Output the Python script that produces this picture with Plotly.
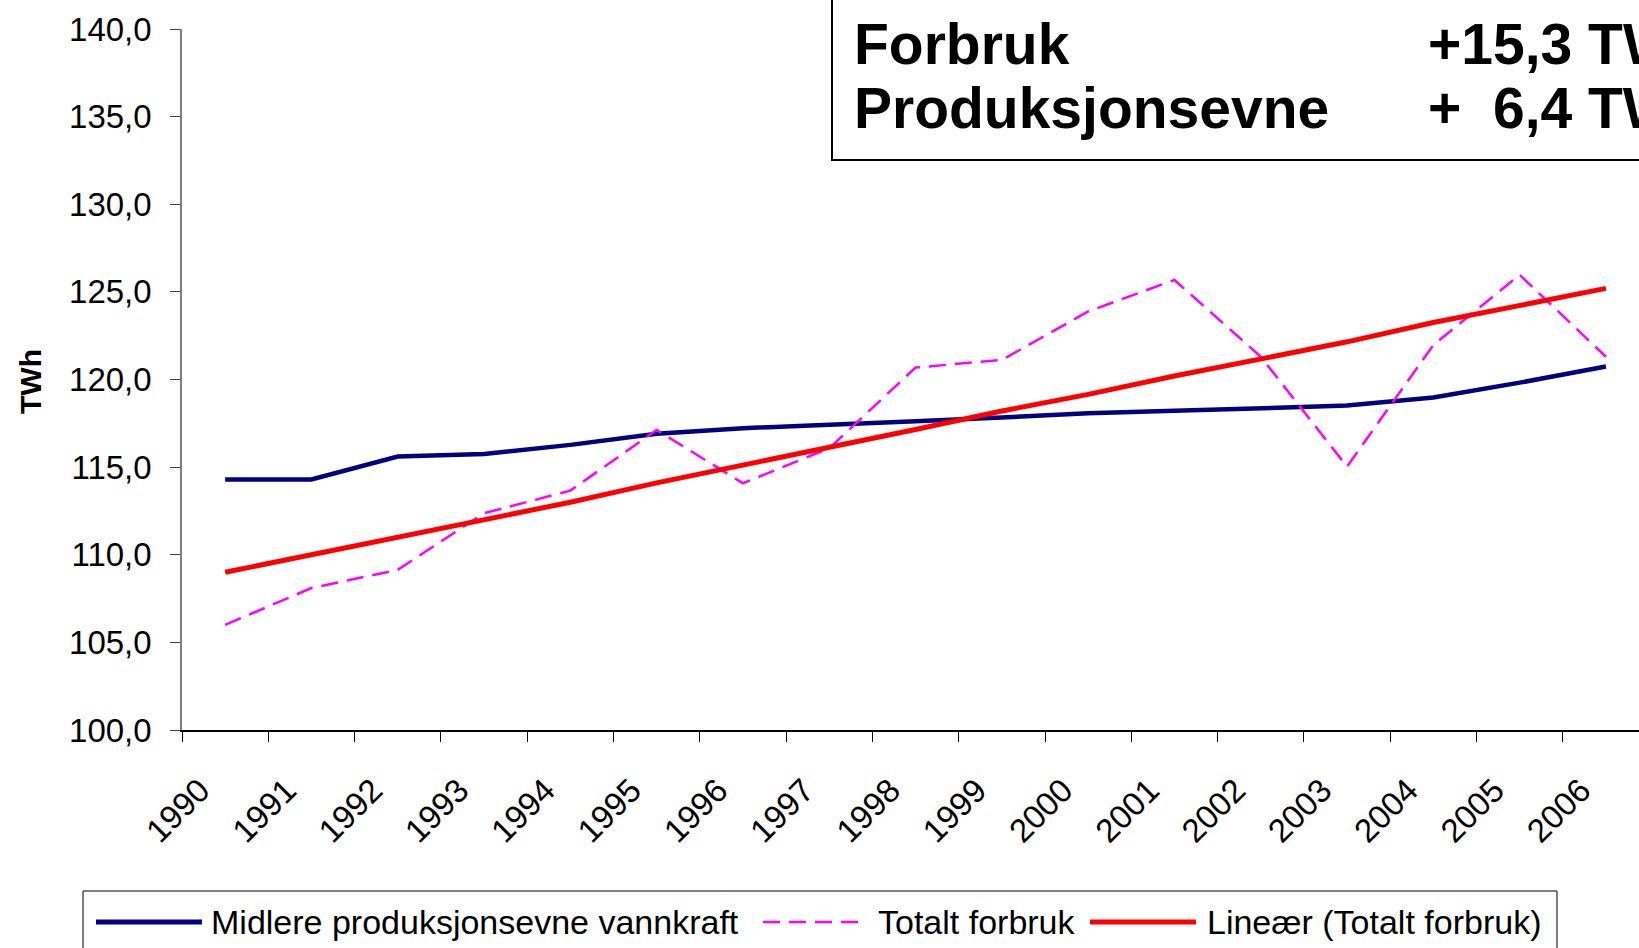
import plotly.graph_objects as go

years = [str(y) for y in range(1990, 2007)]
produksjonsevne = [114.3, 114.3, 115.6, 115.75, 116.27, 116.9, 117.22, 117.45, 117.62,
                   117.83, 118.08, 118.21, 118.36, 118.51, 118.97, 119.82, 120.74]
forbruk = [106.0, 108.1, 109.14, 112.37, 113.66, 117.12, 114.08, 116.08, 120.68,
           121.12, 123.88, 125.68, 121.3, 115.03, 121.97, 125.97, 121.3]
trend = [109.0, 110.0, 111.05, 112.05, 113.0, 114.1, 115.1, 116.1, 117.15,
         118.2, 119.15, 120.2, 121.2, 122.15, 123.25, 124.25, 125.2]
series_names = ["Midlere produksjonsevne vannkraft", "Totalt forbruk", "Lineær (Totalt forbruk)"]
box_labels = ["Forbruk", "Produksjonsevne"]
box_values = ["+15,3 TWh", "+\u00a0\u00a06,4 TWh"]

W, H = 1639, 948
L, R, T, B = 182, 0, 29, 218
PW, PH = W - L - R, H - T - B
CAT = 86.3

def px(x):  # reference-page pixel -> paper
    return (x - 182) / PW

def py(y):
    return (730 - y) / PH

FONT = "Liberation Sans, Arial, sans-serif"
colors = ["#000080", "#FF00FF", "#FF0000"]

fig = go.Figure()
fig.add_trace(go.Scatter(x=years, y=produksjonsevne, mode="lines", name=series_names[0],
                         line=dict(color=colors[0], width=4.5)))
fig.add_trace(go.Scatter(x=years, y=forbruk, mode="lines", name=series_names[1],
                         line=dict(color=colors[1], width=2.5, dash="17px,9px")))
fig.add_trace(go.Scatter(x=years, y=trend, mode="lines", name=series_names[2],
                         line=dict(color=colors[2], width=5)))

shapes = []
annotations = []

# text box (top right, clipped by figure edge)
shapes.append(dict(type="rect", xref="paper", yref="paper",
                   x0=px(832), x1=px(1720), y0=py(160), y1=py(-20),
                   line=dict(color="black", width=2), fillcolor="white", layer="above"))
for i, (lab, val) in enumerate(zip(box_labels, box_values)):
    yc = [44, 108][i]
    annotations.append(dict(xref="paper", yref="paper", x=px(852), y=py(yc), text=lab,
                            showarrow=False, xanchor="left", yanchor="middle",
                            font=dict(family=FONT, size=57, color="black", weight="bold")))
    annotations.append(dict(xref="paper", yref="paper", x=px(1426), y=py(yc), text=val,
                            showarrow=False, xanchor="left", yanchor="middle",
                            font=dict(family=FONT, size=57, color="black", weight="bold")))

# y axis title
annotations.append(dict(xref="paper", yref="paper", x=px(30), y=py(382), text="TWh",
                        showarrow=False, textangle=-90, xanchor="center", yanchor="middle",
                        font=dict(family=FONT, size=30, color="black", weight="bold")))

# manual legend
shapes.append(dict(type="rect", xref="paper", yref="paper",
                   x0=px(83), x1=px(1557), y0=py(970), y1=py(891),
                   line=dict(color="black", width=1), fillcolor="rgba(0,0,0,0)"))
leg_items = [(96, 202, 209), (763, 865, 876), (1090, 1196, 1205)]
dashes = ["solid", "17px,9px", "solid"]
widths = [5, 2.5, 5]
ly = 922
for i, (x0, x1, tx) in enumerate(leg_items):
    shapes.append(dict(type="line", xref="paper", yref="paper",
                       x0=px(x0), x1=px(x1), y0=py(ly), y1=py(ly),
                       line=dict(color=colors[i], width=widths[i], dash=dashes[i])))
    annotations.append(dict(xref="paper", yref="paper", x=px(tx), y=py(ly), text=series_names[i],
                            showarrow=False, xanchor="left", yanchor="middle",
                            font=dict(family=FONT, size=34, color="black")))

fig.update_layout(
    width=W, height=H,
    margin=dict(l=L, r=R, t=T, b=B, autoexpand=False),
    paper_bgcolor="white", plot_bgcolor="white",
    separators=", ",
    showlegend=False,
    font=dict(family=FONT, color="black"),
    shapes=shapes, annotations=annotations,
)
fig.update_xaxes(type="category", range=[-0.5, -0.5 + PW / CAT],
                 showgrid=False, showline=True, linecolor="black", linewidth=1.5,
                 ticks="outside", tickson="boundaries", ticklen=10, tickcolor="black",
                 tickangle=-45, tickfont=dict(family=FONT, size=33, color="black"),
                 ticklabelstandoff=26, ticklabelshift=-25)
fig.update_yaxes(range=[100, 140], dtick=5, tickformat=".1f",
                 showgrid=False, showline=True, linecolor="#808080", linewidth=1.5,
                 ticks="outside", ticklen=10, tickcolor="#404040",
                 tickfont=dict(family=FONT, size=33, color="black"),
                 ticklabelstandoff=12, zeroline=False)

fig.write_html("out.html",
               config={"displayModeBar": False},
               post_script="document.body.style.margin='0';document.body.style.overflow='hidden';")
